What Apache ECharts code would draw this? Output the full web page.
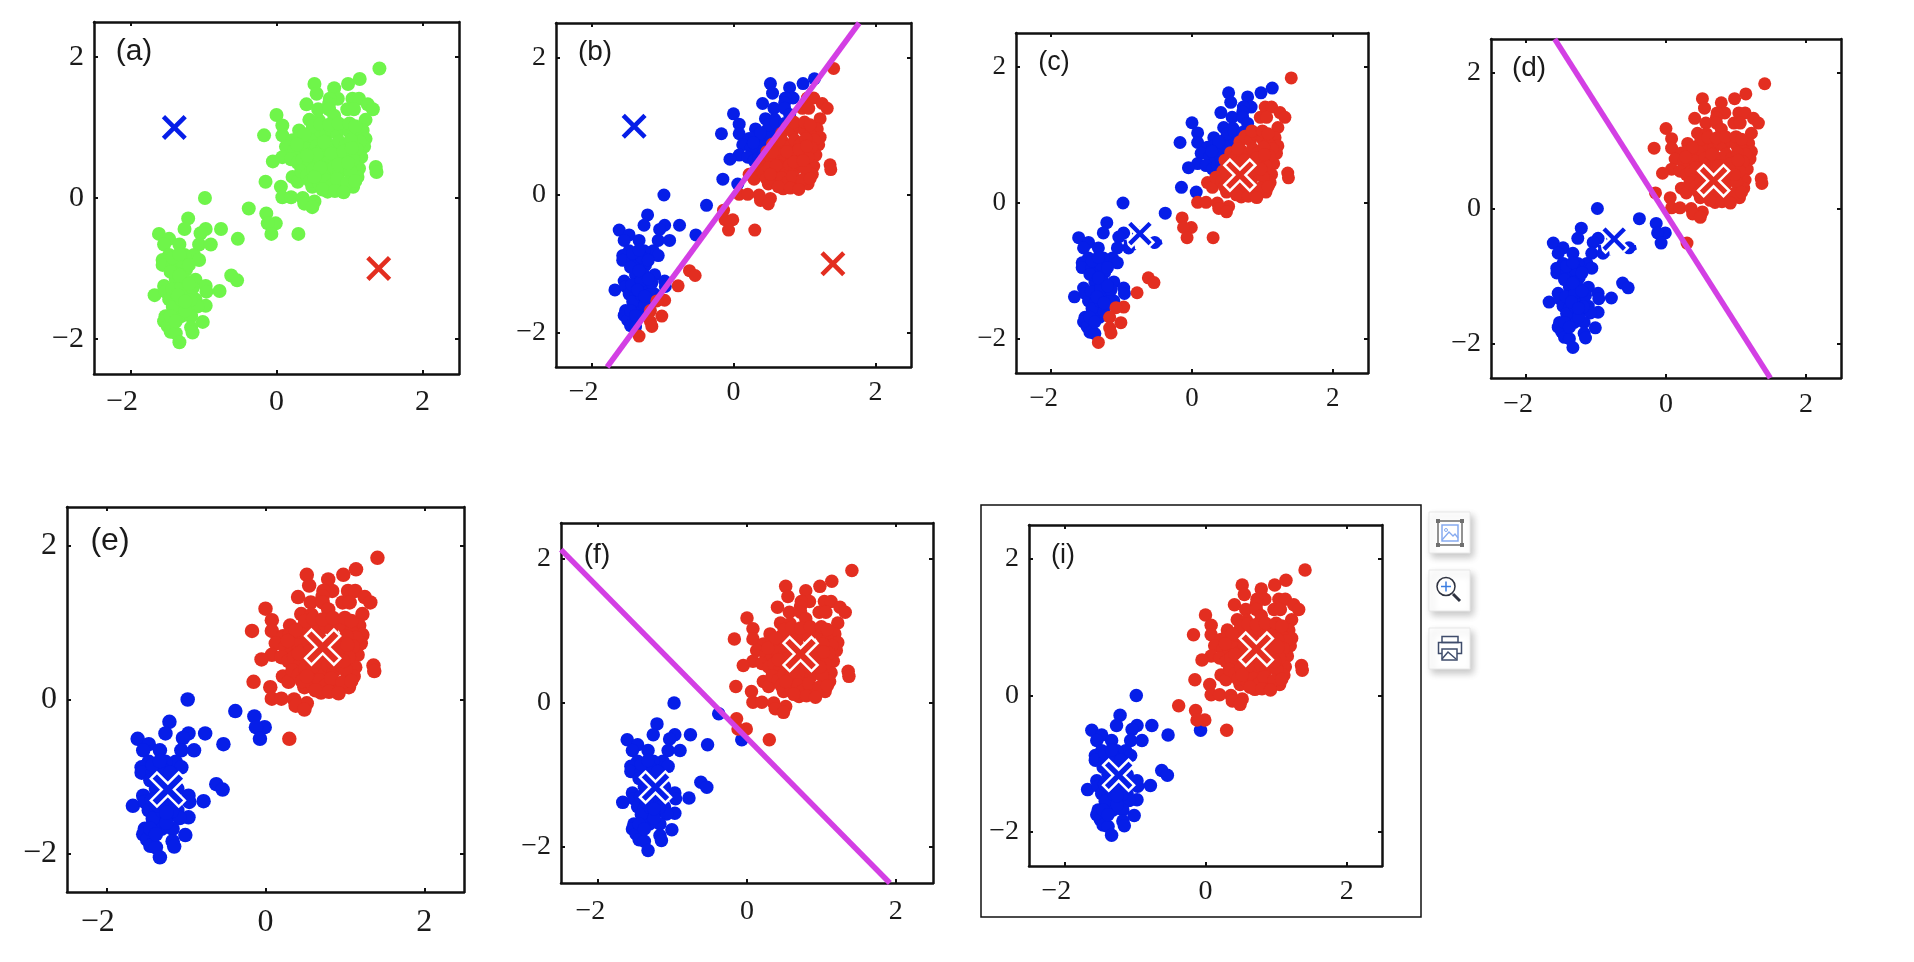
<!DOCTYPE html>
<html><head><meta charset="utf-8">
<style>html,body{margin:0;padding:0;background:#fff}#c{width:1914px;height:962px}</style>
<script src="https://cdn.jsdelivr.net/npm/echarts@6/dist/echarts.min.js"></script>
</head><body><div id="c"></div>
<script>
const tickValues=[-2,0,2];
const upperOutline=[[1.41,1.84],[1.14,1.69],[0.98,1.62],[0.52,1.62],[0.79,1.56],[0.55,1.48],[0.84,1.41],[0.73,1.41],[0.72,1.34],[1.04,1.41],[1.13,1.41],[0.41,1.33],[1.25,1.33],[1.32,1.26],[0.97,1.26],[1.06,1.26],[0.57,1.26],[0.72,1.26],[0.79,1.17],[0,1.18],[1.22,1.11],[0.45,1.11],[0.58,1.10],[0.08,1.03],[-0.17,0.89],[0.08,0.89],[0.31,0.96],[1.18,0.96],[1.22,0.84],[0.22,0.82],[0.13,0.73],[1.20,0.73],[0.08,0.58],[-0.05,0.52],[1.16,0.58],[1.36,0.44],[1.37,0.37],[1.13,0.42],[0.22,0.30],[0.29,0.23],[-0.15,0.23],[0.06,0.16],[0.49,0.16],[0.70,0.09],[0.90,0.16],[1.05,0.16],[1.11,0.30],[0.08,0.01],[0.20,0.01],[0.36,0],[0.52,-0.05],[0.38,-0.08],[0.49,-0.13]];
const upperCore=[[0.30,0.84],[0.38,0.78],[0.45,0.92],[0.52,0.85],[0.60,0.95],[0.68,0.90],[0.75,0.98],[0.83,0.92],[0.92,1.0],[1.00,0.94],[1.08,0.88],[1.14,0.80],[0.25,0.68],[0.33,0.62],[0.41,0.70],[0.47,0.63],[0.55,0.74],[0.62,0.68],[0.70,0.77],[0.78,0.71],[0.86,0.80],[0.94,0.74],[1.02,0.82],[1.10,0.69],[0.20,0.55],[0.29,0.50],[0.36,0.55],[0.44,0.47],[0.51,0.56],[0.58,0.50],[0.66,0.59],[0.73,0.53],[0.81,0.60],[0.89,0.54],[0.97,0.62],[1.05,0.55],[0.34,0.38],[0.42,0.32],[0.50,0.40],[0.57,0.33],[0.64,0.42],[0.71,0.36],[0.79,0.44],[0.86,0.37],[0.94,0.45],[1.01,0.38],[0.46,0.24],[0.59,0.20],[0.68,0.25],[0.76,0.18],[0.83,0.27],[0.97,0.22],[1.08,0.24],[0.63,0.12],[0.80,0.10],[0.92,0.08],[0.50,1.02],[0.60,1.05],[0.72,1.04],[0.85,1.06],[1.0,1.06],[1.08,1.02],[0.38,0.90],[0.28,0.76],[0.55,0.62],[0.75,0.63],[0.92,0.66],[1.03,0.71],[0.65,0.80],[0.85,0.48],[0.60,0.43],[0.42,0.60],[0.98,0.50],[0.52,0.30]];
const lowerCluster=[[-0.98,0],[-1.21,-0.29],[-1.26,-0.44],[-0.97,-0.44],[-1.04,-0.50],[-0.76,-0.44],[-1.61,-0.51],[-0.53,-0.58],[-1.47,-0.58],[-1.54,-0.66],[-1.33,-0.66],[-1.06,-0.66],[-0.90,-0.66],[-1.13,-0.81],[-1.26,-0.81],[-1.47,-0.81],[-1.56,-0.88],[-1.06,-0.88],[-1.56,-0.95],[-1.42,-0.95],[-1.36,-1.02],[-1.24,-1.02],[-0.62,-1.10],[-0.54,-1.17],[-1.11,-1.16],[-1.54,-1.25],[-1.38,-1.16],[-1.26,-1.16],[-0.97,-1.25],[-0.96,-1.33],[-0.78,-1.32],[-1.67,-1.38],[-1.52,-1.33],[-1.38,-1.30],[-1.24,-1.35],[-1.47,-1.44],[-1.11,-1.44],[-1.38,-1.47],[-0.97,-1.53],[-1.24,-1.54],[-1.08,-1.54],[-1.52,-1.68],[-1.38,-1.61],[-1.31,-1.68],[-1.17,-1.68],[-1.01,-1.76],[-1.54,-1.75],[-1.49,-1.82],[-1.17,-1.84],[-1.15,-1.91],[-1.45,-1.90],[-1.38,-1.92],[-1.33,-2.05],[-1.45,-1.05],[-1.30,-0.90],[-1.20,-0.95],[-1.43,-1.30],[-1.30,-1.25],[-1.15,-1.28],[-1.42,-1.55],[-1.30,-1.45],[-1.18,-1.45],[-1.45,-1.68],[-1.25,-1.60],[-1.42,-0.85],[-1.33,-0.80],[-1.33,-1.10],[-1.20,-1.22],[-1.35,-1.38],[-1.25,-1.47],[-1.38,-1.75]];
const bridgePoints=[[-0.38,-0.15],[-0.14,-0.22],[-0.01,-0.36],[-0.12,-0.36],[-0.07,-0.51],[0.30,-0.51]];
const allPoints=lowerCluster.concat(bridgePoints,upperOutline,upperCore);

const boundaryB=[[-1.78,-2.5],[1.77,2.5]];
const boundaryD=[[1.49,-2.5],[-1.59,2.5]];
const boundaryF=[[1.92,-2.5],[-2.5,2.13]];
const boundaryI=[[1.5,-1.89],[-2.5,1.71]];
const centresStart=[[-1.40,1.0],[1.40,-1.0]];
const centresC=[[-0.74,-0.45],[0.68,0.41]];
const centresE=[[-1.23,-1.17],[0.72,0.68]];

const BLUE='#061ee8',RED='#e32e20',GREEN='#6ff54a',MAGENTA='#d33fe4';
const CROSS='path://M13,0 L50,37 L87,0 L100,13 L63,50 L100,87 L87,100 L50,63 L13,100 L0,87 L37,50 L0,13 Z';
const CROSS_WIDE='path://M18,0 L50,32 L82,0 L100,18 L68,50 L100,82 L82,100 L50,68 L18,100 L0,82 L32,50 L0,18 Z';
const HOOKS='path://M0,0 L2,10 L11,9 M35,0 L36,4 L28,8';

const panels=[
 {name:'(a)',rect:[94,22,459,374],tick:30,mx:13,lab:[134,52,30],r:14,centres:centresStart,style:'plain'},
 {name:'(b)',rect:[556,23,911,367],tick:28,mx:12,lab:[595,52,28],r:13,split:boundaryB,line:boundaryB,centres:centresStart,style:'plain'},
 {name:'(c)',rect:[1016,33,1368,373],tick:27,mx:12,lab:[1054,63,27],r:13,split:boundaryB,centres:centresC,style:'mid'},
 {name:'(d)',rect:[1491,39,1841,378],tick:28,mx:13,lab:[1529,68,28],r:13,split:boundaryD,line:boundaryD,centres:centresC,style:'mid'},
 {name:'(e)',rect:[67,507,464,892],tick:32,mx:15,lab:[110,541,32],r:14.5,split:boundaryD,centres:centresE,style:'final',cr:35,cb:34},
 {name:'(f)',rect:[561,523,933,883],tick:28,mx:15,lab:[597,555,28],r:13.5,split:boundaryF,line:boundaryF,centres:centresE,style:'final',cr:34,cb:31},
 {name:'(i)',rect:[1029,525,1382,866],tick:28,mx:12,lab:[1063,556,27],r:13.5,split:boundaryI,centres:centresE,style:'final',cr:33,cb:31}
];

function isBlue(p,b){return (b[1][0]-b[0][0])*(p[1]-b[0][1])-(b[1][1]-b[0][1])*(p[0]-b[0][0])>0;}
const grid=[],xAxis=[],yAxis=[],series=[],graphic=[];
const fmtY=v=>String(v).replace('-','\u2212');
const fmtX=v=>v<0?fmtY(v)+'{p| }':String(v);
panels.forEach((P,i)=>{
  const [l,t,r,b]=P.rect;
  grid.push({left:l,top:t,width:r-l,height:b-t});
  const base={type:'value',min:-2.5,max:2.5,gridIndex:i,splitLine:{show:false},
    axisLine:{show:true,onZero:false,lineStyle:{color:'#111',width:2.5}},
    axisTick:{show:true,inside:true,length:4,customValues:tickValues,lineStyle:{color:'#111',width:2}}};
  const lab={show:true,customValues:tickValues,color:'#1a1a1a',fontFamily:'Liberation Serif',fontSize:P.tick};
  xAxis.push({...base,position:'bottom',axisLabel:{...lab,margin:P.mx,formatter:fmtX,
    rich:{p:{width:P.tick*0.56,fontSize:P.tick,fontFamily:'Liberation Serif'}}}});
  xAxis.push({...base,position:'top',axisLabel:{show:false}});
  yAxis.push({...base,position:'left',axisLabel:{...lab,margin:10,formatter:fmtY,padding:[4,0,0,0]}});
  yAxis.push({...base,position:'right',axisLabel:{show:false}});
  const ax={xAxisIndex:2*i,yAxisIndex:2*i,silent:true};
  const scatter=(data,color)=>({...ax,type:'scatter',data,symbol:'circle',symbolSize:P.r,itemStyle:{color,opacity:1},z:2});
  if(!P.split){series.push(scatter(allPoints,GREEN));}
  else{
    series.push(scatter(allPoints.filter(p=>isBlue(p,P.split)),BLUE));
    series.push(scatter(allPoints.filter(p=>!isBlue(p,P.split)),RED));
  }
  if(P.line)series.push({...ax,type:'line',data:P.line,showSymbol:false,symbol:'none',clip:true,lineStyle:{color:MAGENTA,width:5.5},z:3});
  const cross=(pt,color,size,outline)=>({...ax,type:'scatter',data:[pt],symbol:outline?CROSS_WIDE:CROSS,symbolSize:size,z:4,
    itemStyle:{color,opacity:1,borderColor:outline?'#fff':'transparent',borderWidth:outline?2.5:0}});
  if(P.style==='plain'){
    series.push(cross(P.centres[0],BLUE,25,false));
    series.push(cross(P.centres[1],RED,25,false));
  }else if(P.style==='mid'){
    series.push(cross(P.centres[0],BLUE,27,true));
    series.push({...ax,type:'scatter',data:[P.centres[0]],symbol:HOOKS,symbolSize:[36,11],symbolOffset:[3,11.5],z:5,
      itemStyle:{color:'transparent',borderColor:BLUE,borderWidth:1.8,opacity:1}});
    series.push(cross(P.centres[1],RED,31,true));
  }else{
    series.push(cross(P.centres[0],BLUE,P.cb,true));
    series.push(cross(P.centres[1],RED,P.cr,true));
  }
  graphic.push({type:'text',z:10,silent:true,
    style:{text:P.name,x:P.lab[0],y:P.lab[1],fill:'#1a1a1a',font:P.lab[2]+'px "Liberation Sans"',align:'center',verticalAlign:'middle'}});
});

// frame around panel (i)
graphic.push({type:'rect',shape:{x:981,y:505,width:440,height:412},style:{fill:'none',stroke:'#111',lineWidth:1.5},z:9,silent:true});
// side toolbar
[512,570,628].forEach(y=>graphic.push({type:'rect',shape:{x:1429,y,width:41,height:41},z:8,silent:true,
  style:{fill:'#fff',stroke:'#e8e8e8',lineWidth:1,shadowBlur:7,shadowColor:'rgba(0,0,0,0.22)',shadowOffsetX:3,shadowOffsetY:4}}));
const S=(type,shape,style)=>graphic.push({type,shape,style:{fill:'none',...style},z:9,silent:true});
const g='#6f6f6f',bl='#86aaf0',dk='#2f3340',nv='#3f4c6b';
S('rect',{x:1438,y:521,width:24,height:24},{stroke:g,lineWidth:1.5});
[[1438,521],[1462,521],[1438,545],[1462,545]].forEach(c=>S('rect',{x:c[0]-2,y:c[1]-2,width:4,height:4},{fill:g}));
S('rect',{x:1442,y:525,width:16,height:16},{stroke:bl,lineWidth:1.5});
S('polyline',{points:[[1442,540],[1449,532],[1453,536],[1455,534],[1458,538]]},{stroke:bl,lineWidth:1.3});
S('circle',{cx:1446,cy:530,r:1.5},{stroke:bl,lineWidth:1});
S('circle',{cx:1446,cy:586.5,r:9},{stroke:dk,lineWidth:1.5});
S('line',{x1:1441,y1:586.5,x2:1451,y2:586.5},{stroke:'#3b7de0',lineWidth:1.5});
S('line',{x1:1446,y1:581.5,x2:1446,y2:591.5},{stroke:'#3b7de0',lineWidth:1.5});
S('line',{x1:1453,y1:594,x2:1460,y2:601},{stroke:dk,lineWidth:3});
S('rect',{x:1442,y:636.5,width:16,height:6},{stroke:nv,lineWidth:1.5});
S('rect',{x:1438.5,y:642.5,width:23,height:11},{stroke:nv,lineWidth:1.5});
S('rect',{x:1442,y:649,width:15,height:11},{fill:'#fff',stroke:nv,lineWidth:1.5});
S('polyline',{points:[[1442,659],[1448,652],[1456,659]]},{stroke:nv,lineWidth:1.5});

const chart=echarts.init(document.getElementById('c'),null,{renderer:'canvas'});
chart.setOption({animation:false,backgroundColor:'#fff',grid,xAxis,yAxis,series,graphic:{elements:graphic}});
</script></body></html>
